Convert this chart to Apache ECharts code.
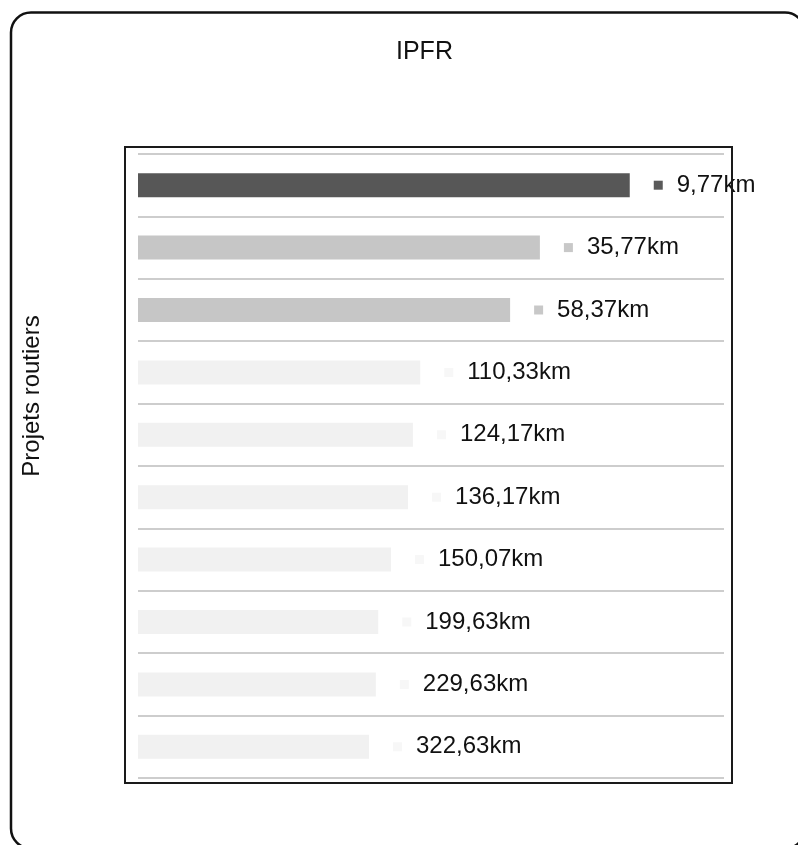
<!DOCTYPE html>
<html>
<head>
<meta charset="utf-8">
<title>IPFR</title>
<script src="https://cdn.jsdelivr.net/npm/echarts@6/dist/echarts.min.js"></script>
<style>
  html, body { margin: 0; padding: 0; background: #ffffff; }
  #chart { width: 798px; height: 845px; }
</style>
</head>
<body>
<div id="chart"></div>
<script>
// Road projects, top to bottom
const projectKeys = ['R01', 'R02', 'R03', 'R04', 'R05', 'R06', 'R07', 'R08', 'R09', 'R10'];
// Bar length per project (index score)
const scoreValues = [100.7, 82.3, 76.2, 57.8, 56.3, 55.3, 51.8, 49.2, 48.7, 47.3];
// Distance shown next to each bar, in km
const distancesKm = [9.77, 35.77, 58.37, 110.33, 124.17, 136.17, 150.07, 199.63, 229.63, 322.63];
// Highlight tier of each project: 0 = first, 1 = next, 2 = others
const tiers = [0, 1, 1, 2, 2, 2, 2, 2, 2, 2];

const tierColors = ['#575757', '#c6c6c6', '#f1f1f1'];
const tierMarks = ['#5a5a5a', '#c8c8c8', '#f7f7f7'];
const FONT = '"Liberation Sans", Arial, Helvetica, sans-serif';

const formatKm = v => v.toFixed(2).replace('.', ',') + 'km';

const chart = echarts.init(document.getElementById('chart'), null, { renderer: 'canvas' });

chart.setOption({
  backgroundColor: '#ffffff',
  animation: false,
  title: {
    text: 'IPFR',
    left: 391,
    top: 35,
    textStyle: { fontFamily: FONT, fontSize: 25, fontWeight: 'normal', color: '#111111' }
  },
  grid: { left: 138, top: 154, width: 586, height: 624, containLabel: false },
  xAxis: {
    type: 'value',
    min: 0,
    max: 120,
    show: false
  },
  yAxis: {
    type: 'category',
    data: projectKeys,
    inverse: true,
    axisLine: { show: false },
    axisTick: { show: false },
    axisLabel: { show: false },
    splitLine: { show: true, lineStyle: { color: '#cdcdcd', width: 2 } }
  },
  series: [{
    type: 'bar',
    barWidth: 24,
    data: scoreValues.map((v, i) => ({
      value: v,
      itemStyle: { color: tierColors[tiers[i]] }
    })),
    label: {
      show: true,
      position: 'right',
      distance: 24,
      formatter: p => '{m' + tiers[p.dataIndex] + '|}{t|' + formatKm(distancesKm[p.dataIndex]) + '}',
      rich: {
        m0: { width: 9, height: 9, backgroundColor: tierMarks[0] },
        m1: { width: 9, height: 9, backgroundColor: tierMarks[1] },
        m2: { width: 9, height: 9, backgroundColor: tierMarks[2] },
        t: { fontFamily: FONT, fontSize: 24, color: '#111111', padding: [0, 0, 0, 14] }
      }
    }
  }],
  graphic: [
    {
      type: 'rect',
      z: 100,
      silent: true,
      shape: { x: 11, y: 12.5, width: 794, height: 836, r: 20 },
      style: { fill: 'none', stroke: '#111111', lineWidth: 2.5 }
    },
    {
      type: 'rect',
      z: 100,
      silent: true,
      shape: { x: 125, y: 147, width: 607, height: 636 },
      style: { fill: 'none', stroke: '#1a1a1a', lineWidth: 2 }
    },
    {
      type: 'text',
      z: 100,
      silent: true,
      x: 32,
      y: 396,
      rotation: Math.PI / 2,
      style: {
        text: 'Projets routiers',
        font: '24px ' + FONT,
        fill: '#111111',
        align: 'center',
        verticalAlign: 'middle'
      }
    }
  ]
});
</script>
</body>
</html>
